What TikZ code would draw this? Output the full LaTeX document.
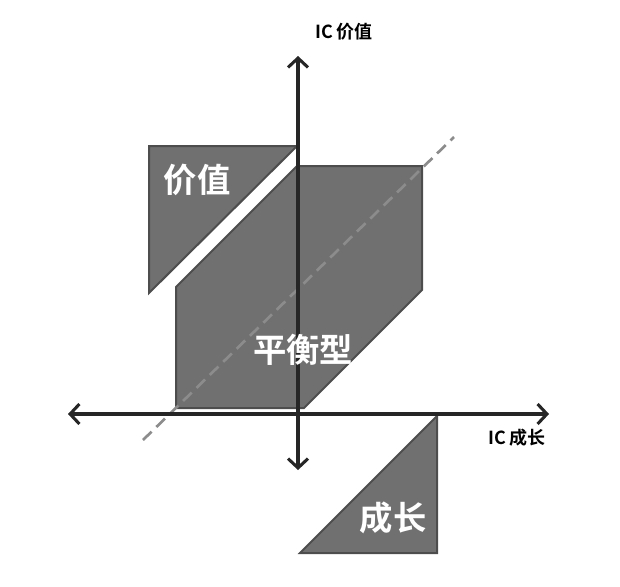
\documentclass[tikz,border=0pt]{standalone}
\usepackage{fontspec}
\usetikzlibrary{arrows.meta}
\newfontfamily\cjk[BoldFont={Noto Sans CJK SC Bold}]{Noto Sans CJK SC}
\definecolor{cfill}{HTML}{707070}
\definecolor{cedge}{HTML}{4D4D4D}
\definecolor{caxis}{HTML}{262626}
\definecolor{cdash}{HTML}{8C8C8C}

\begin{document}
\begin{tikzpicture}[x=0.75pt,y=-0.75pt,
  zone/.style={fill=cfill,draw=cedge,line width=1.5pt},
  axis/.style={draw=caxis,line width=2.3pt,
    {Straight Barb[length=7pt,width=15pt]}-{Straight Barb[length=7pt,width=15pt]}},
  diag/.style={draw=cdash,line width=2pt,dash pattern=on 9pt off 5pt},
  tag/.style={font=\cjk\bfseries\fontsize{25}{25}\selectfont,text=white,inner sep=0pt},
  axlabel/.style={font=\cjk\bfseries\fontsize{13.5}{13.5}\selectfont,inner sep=0pt}]
\useasboundingbox (0,0) rectangle (620,586);
% zones
\draw[zone] (149,146) -- (297,146) -- (149,293) -- cycle;
\draw[zone] (297,166) -- (422,166) -- (422,290) -- (304,408) -- (176,408) -- (176,287) -- cycle;
\draw[zone] (437,416) -- (437,553) -- (300,553) -- cycle;
% diagonal
\coordinate (dlow) at (143,440);
\coordinate (dhigh) at (454,137);
\draw[diag] (dlow) -- (dhigh);
% axes
\coordinate (xleft) at (68,414);
\coordinate (xright) at (549,414);
\coordinate (ytop) at (298,56);
\coordinate (ybot) at (298,470);
\draw[axis] (xleft) -- (xright);
\draw[axis] (ybot) -- (ytop);
% labels
\node[tag] (value) at (197,180) {价值};
\node[tag] (balance) at (303,350) {平衡型};
\node[tag] (growth) at (393,518) {成长};
\node[axlabel] (ylab) at (344,32) {IC 价值};
\node[axlabel] (xlab) at (517,438) {IC 成长};
\end{tikzpicture}
\end{document}
